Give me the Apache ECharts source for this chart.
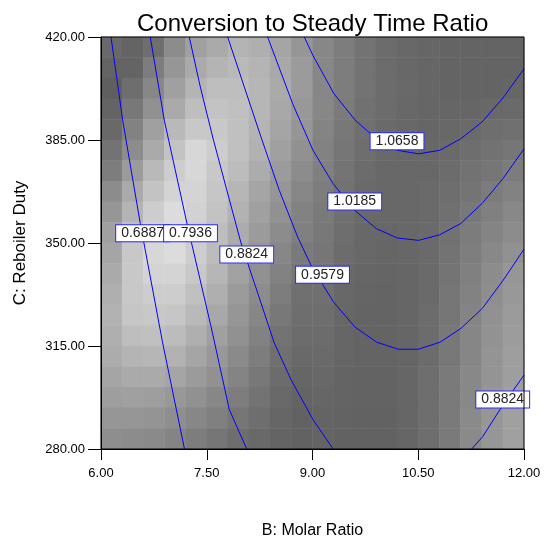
<!DOCTYPE html>
<html>
<head>
<meta charset="utf-8">
<script src="https://cdn.jsdelivr.net/npm/echarts@6/dist/echarts.min.js"></script>
<style>
  html, body { margin: 0; padding: 0; background: #fff; }
  #main { width: 546px; height: 541px; }
</style>
</head>
<body>
<div id="main"></div>
<script>
// axis ranges / ticks
var xRange = [6, 12, 1.5];
var yRange = [280, 420, 35];

// shading of the 20 x 20 cells, grey level 0-255, rows listed top (420) to bottom (280)
var grayRows = [
  [105,100,110,140,160,170,180,175,165,150,135,125,115,108,104,102,100,100,100,100],
  [100,100,125,150,170,180,185,180,168,155,135,125,115,108,104,102,100,100,100,100],
  [ 95,110,135,160,180,190,190,182,170,155,135,125,115,108,105,102,100,100,100,102],
  [100,120,145,170,190,195,192,182,168,152,135,123,113,108,104,102,102,102,104,106],
  [105,130,160,185,200,200,192,180,165,150,132,120,112,106,104,102,104,106,110,112],
  [115,140,170,195,215,205,192,178,160,145,130,118,110,105,104,104,106,110,114,118],
  [125,155,185,205,215,200,188,172,155,140,128,116,108,104,104,104,108,114,118,124],
  [140,170,195,212,212,198,182,165,150,135,125,114,106,104,104,106,110,116,124,130],
  [150,180,205,220,210,195,178,160,145,130,122,112,105,104,104,106,112,120,128,136],
  [160,190,210,220,205,190,172,155,140,128,120,110,104,103,104,106,114,124,132,140],
  [165,200,215,220,205,188,168,150,135,122,118,108,104,102,103,106,115,126,136,145],
  [170,200,212,212,200,182,162,145,130,118,116,106,102,101,102,106,116,128,140,150],
  [175,200,205,205,192,175,155,140,125,112,112,104,101,100,102,106,118,130,142,152],
  [178,198,200,198,185,168,150,135,120,110,110,103,100,100,102,108,118,132,145,155],
  [175,190,192,188,175,160,145,130,115,108,108,102,100,100,102,108,120,134,146,156],
  [172,180,182,178,165,152,138,125,112,105,106,102,100,100,102,108,120,134,148,158],
  [165,170,170,165,155,145,132,120,108,102,104,100, 99, 99,102,110,122,136,148,158],
  [158,160,158,152,145,135,125,115,105,100,102,100, 99, 99,102,110,122,136,150,160],
  [150,150,148,142,135,128,118,110,102, 98,100, 99, 98, 98,102,110,122,138,150,160],
  [142,140,138,132,125,118,110,105,100, 98,100, 98, 98, 98,102,110,122,138,150,160]
];

// contour lines [molar ratio, reboiler duty]
var c06887 = [[6.142,420],[6.308,391.7],[6.557,356.6],[6.875,316.0],[7.184,280]];
var c07936 = [[6.699,420],[6.898,391.7],[7.22,356.6],[7.56,321.7],[7.82,293.4],[8.067,280]];
var c08824 = [[7.252,420],[7.409,403.0],[7.584,386.0],[7.773,369.0],[7.986,350],[8.223,333.0],
              [8.458,316.0],[8.695,303.6],[9.007,290.0],[9.295,279.9]];
var c09579 = [[7.797,420],[8.033,403.0],[8.27,386.0],[8.529,367.9],[8.79,352],[8.989,341.95],
              [9.295,330.06],[9.603,321.4],[9.911,316.3],[10.217,313.9],[10.50,313.9],[10.81,316.3],
              [11.106,321.0],[11.41,327.8],[11.706,337.4],[12.0,347.9]];
var c10185 = [[8.364,420],[8.719,397.3],[9.007,381.5],[9.291,370.2],[9.599,361.1],[9.905,354.9],
              [10.203,351.7],[10.506,350.9],[10.804,352.8],[11.102,356.6],[11.404,363.4],
              [11.702,371.9],[12.0,382.0]];
var c10658 = [[8.884,420],[9.007,413.7],[9.305,400.7],[9.607,391.7],[9.905,385.4],[10.203,381.5],
              [10.506,380.3],[10.804,381.5],[11.102,385.4],[11.404,391.1],[11.702,399.3],[12.0,409.2]];
var c08824b = [[11.258,280],[11.414,284.2],[11.716,295.5],[12.0,305.1]];

// contour labels
var labelNames = ['0.6887', '0.7936', '0.8824', '0.9579', '1.0185', '1.0658', '0.8824'];
var labelPos = [[6.59,353.3],[7.27,353.3],[8.067,346.1],[9.142,339.2],[9.599,364.1],[10.199,384.6],[11.698,296.8]];

var font = 'Arial, "Liberation Sans", sans-serif';

var cells = [];
for (var r = 0; r < grayRows.length; r++) {
  for (var c = 0; c < grayRows[r].length; c++) {
    cells.push([c, grayRows.length - 1 - r, grayRows[r][c]]);
  }
}
var cats = [];
for (var i = 0; i < 20; i++) cats.push(i);

var contourSets = [c06887, c07936, c08824, c09579, c10185, c10658, c08824b];
var series = [{
  type: 'heatmap',
  xAxisIndex: 0,
  yAxisIndex: 0,
  data: cells,
  z: 1
}];
contourSets.forEach(function (d) {
  series.push({
    type: 'line',
    xAxisIndex: 1,
    yAxisIndex: 1,
    data: d,
    showSymbol: false,
    symbol: 'none',
    lineStyle: { color: '#0000ff', width: 1 },
    z: 3
  });
});
series.push({
  type: 'scatter',
  xAxisIndex: 1,
  yAxisIndex: 1,
  symbolSize: 0,
  z: 4,
  itemStyle: { opacity: 1 },
  data: labelPos.map(function (p, i) { return { name: labelNames[i], value: p }; }),
  label: {
    show: true,
    position: 'inside',
    formatter: '{b}',
    fontFamily: font,
    fontSize: 14,
    color: '#222',
    opacity: 1,
    backgroundColor: '#ffffff',
    borderColor: '#2a2aff',
    borderWidth: 1,
    padding: [1, 5, 0, 5],
    lineHeight: 15
  }
});

var myChart = echarts.init(document.getElementById('main'));
var option = {
  animation: false,
  title: {
    text: 'Conversion to Steady Time Ratio',
    left: 132,
    top: 7,
    textStyle: { fontFamily: font, fontSize: 24, fontWeight: 'normal', color: '#000' }
  },
  visualMap: {
    show: false,
    seriesIndex: 0,
    min: 0,
    max: 255,
    inRange: { color: ['#000000', '#ffffff'] }
  },
  grid: [
    { left: 101, top: 37, width: 423, height: 412, outerBoundsMode: 'none', containLabel: false },
    { left: 101, top: 37, width: 423, height: 412, outerBoundsMode: 'none', containLabel: false,
      show: true, z: 10, borderColor: '#000', borderWidth: 1, backgroundColor: 'transparent' }
  ],
  xAxis: [
    { type: 'category', gridIndex: 0, data: cats, show: false },
    {
      type: 'value', gridIndex: 1,
      min: xRange[0], max: xRange[1], interval: xRange[2],
      name: 'B: Molar Ratio', nameLocation: 'middle', nameGap: 74,
      nameTextStyle: { fontFamily: font, fontSize: 16, color: '#000' },
      axisLine: { show: true, lineStyle: { color: '#000', width: 1 } },
      axisTick: { show: true, inside: false, length: 11, lineStyle: { color: '#000' } },
      axisLabel: { margin: 18, fontFamily: font, fontSize: 13, color: '#000',
        formatter: function (v) { return v.toFixed(2); } },
      splitLine: { show: false },
      z: 10
    }
  ],
  yAxis: [
    { type: 'category', gridIndex: 0, data: cats, show: false },
    {
      type: 'value', gridIndex: 1,
      min: yRange[0], max: yRange[1], interval: yRange[2],
      name: 'C: Reboiler Duty', nameLocation: 'middle', nameGap: 72,
      nameTextStyle: { fontFamily: font, fontSize: 17, color: '#000' },
      axisLine: { show: true, lineStyle: { color: '#000', width: 1 } },
      axisTick: { show: true, inside: false, length: 13, lineStyle: { color: '#000' } },
      axisLabel: { margin: 16, fontFamily: font, fontSize: 13, color: '#000',
        formatter: function (v) { return v.toFixed(2); } },
      splitLine: { show: false },
      z: 10
    }
  ],
  series: series
};
myChart.setOption(option);
</script>
</body>
</html>
